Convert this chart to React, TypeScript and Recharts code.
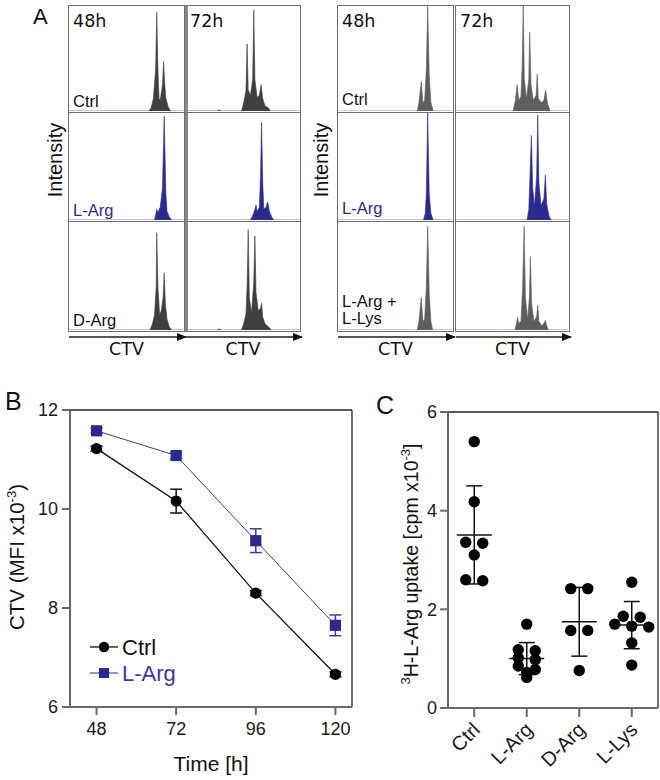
import React from 'react';
import {
  AreaChart, Area, XAxis, YAxis, LineChart, Line, ErrorBar, ReferenceLine,
  ScatterChart, Scatter,
} from 'recharts';

const FONT = '"Liberation Sans", Arial, sans-serif';
const FONT2 = '"DejaVu Sans", Verdana, sans-serif';

// ---------- Panel A: CTV histograms, [CTV bin (0-100), relative count (0-100)] ----------
const ctrl48L = [[0,0],[70,0],[72,3],[74,12],[76,40],[77,94],[78,40],[79,12],[80,10],[82,25],[83,47],[84,25],[85,12],[87,4],[89,0],[100,0]];
const ctrl72L = [[0,0],[26,0],[28,1],[30,0],[48,0],[50,8],[52,20],[53,64],[54,20],[56,15],[58,30],[59,96],[60,30],[62,13],[64,15],[65.5,25],[67,12],[69,5],[72,3],[74,0],[100,0]];
const lArg48L = [[0,0],[75,0],[76,5],[77,10],[78,7],[80,12],[82,30],[83.5,97],[85,25],[86,8],[88,3],[90,0],[100,0]];
const lArg72L = [[0,0],[56,0],[58,4],[60,10],[61,14],[62,8],[64,12],[65,40],[66,91],[67,35],[68,10],[70,12],[71.5,17],[73,8],[75,3],[77,0],[100,0]];
const dArg48L = [[0,0],[71,0],[73,5],[75,14],[76.5,40],[77,90],[78,40],[79.5,14],[81,18],[82.5,30],[83.5,53],[84.5,25],[86,10],[88,3],[90,0],[100,0]];
const dArg72L = [[0,0],[26,0],[28,1],[30,0],[48,0],[50,6],[52,15],[53,40],[54,93],[55,30],[57,16],[59,45],[60,87],[61,35],[63,18],[65,20],[66,25],[67,12],[69,6],[72,3],[75,0],[100,0]];
const ctrl48R = [[0,0],[69.5,0],[71,8],[73,28],[74.5,8],[76,10],[77.5,40],[78.7,100],[80,35],[81.5,8],[83.5,0],[100,0]];
const ctrl72R = [[0,0],[51,0],[53,10],[54.6,25],[56,10],[58,14],[59,40],[60,100],[61,30],[63,12],[65,30],[65.8,75],[67,25],[69,10],[71.5,15],[72.5,35],[73.5,12],[76,8],[78.5,10],[80,20],[81.5,8],[84,0],[100,0]];
const lArg48R = [[0,0],[75,0],[76.5,6],[77.5,25],[78.7,100],[80,25],[81.5,6],[83.5,0],[100,0]];
const lArg72R = [[0,0],[63.4,0],[65,10],[66,40],[67.3,79],[68.5,30],[70,13],[72,40],[73,98],[74,35],[76,13],[78.5,20],[79.8,42],[81,15],[83,4],[84.8,0],[100,0]];
const lys48R = [[0,0],[69.5,0],[71,8],[73,30],[74.5,8],[76,10],[77.5,40],[78.7,96],[80,35],[81.5,8],[83,0],[100,0]];
const lys72R = [[0,0],[52.6,0],[54,6],[55,12],[56,6],[58,8],[59.5,40],[60.8,96],[62,30],[64,10],[65.5,30],[66.4,68],[67.5,25],[69.5,8],[72,12],[73,23],[74,8],[76.5,4],[78.5,6],[79.8,9],[81,4],[82.5,0],[100,0]];

const timeLabels = ['48h', '72h'];
const leftRowLabels = ['Ctrl', 'L-Arg', 'D-Arg'];
const rightRowLabels = ['Ctrl', 'L-Arg', 'L-Arg +|L-Lys'];

// ---------- Panel B ----------
const times = [48, 72, 96, 120];
const ctrlMfi = [11.22, 10.16, 8.30, 6.66];
const ctrlMfiErr = [0.05, 0.24, 0.05, 0.05];
const lArgMfi = [11.58, 11.08, 9.36, 7.65];
const lArgMfiErr = [0.05, 0.07, 0.24, 0.21];
const bYTicks = [6, 8, 10, 12];
const bSeriesNames = ['Ctrl', 'L-Arg'];

// ---------- Panel C ----------
const uptakeCats = ['Ctrl', 'L-Arg', 'D-Arg', 'L-Lys'];
const ctrlUptake = [5.40, 4.18, 3.36, 3.34, 3.10, 2.60, 2.58];
const lArgUptake = [1.70, 1.18, 1.16, 1.02, 0.98, 0.85, 0.78, 0.72, 0.62];
const dArgUptake = [2.42, 2.42, 1.57, 1.57, 0.76];
const lLysUptake = [2.55, 1.86, 1.84, 1.70, 1.66, 1.64, 1.32, 0.87];
const cYTicks = [0, 2, 4, 6];

const DARK = '#3f3f3f';
const GREY = '#5e5e5e';
const BLUE = '#2b2b8e';

function Hist({ data, color, w, h }: any) {
  const pts = data.map(([x, y]: number[]) => ({ x, y }));
  return (
    <AreaChart width={w} height={h} data={pts} margin={{ top: 0, right: 0, bottom: 0, left: 0 }}>
      <XAxis type="number" dataKey="x" domain={[0, 100]} hide />
      <YAxis type="number" domain={[0, 100]} hide allowDataOverflow />
      <Area type="linear" dataKey="y" fill={color} fillOpacity={1} stroke={color} strokeWidth={0.6}
        isAnimationActive={false} dot={false} activeDot={false} />
    </AreaChart>
  );
}

const leftCols = [{ x: 68, w: 117 }, { x: 185, w: 116 }];
const rightCols = [{ x: 337, w: 117 }, { x: 455, w: 115 }];
const rows = [{ y: 5, h: 108 }, { y: 112, h: 110 }, { y: 221, h: 111 }];

const leftHists = [[ctrl48L, ctrl72L], [lArg48L, lArg72L], [dArg48L, dArg72L]];
const rightHists = [[ctrl48R, ctrl72R], [lArg48R, lArg72R], [lys48R, lys72R]];

function swarm(vals: number[]) {
  const idx = vals.map((_, i) => i).sort((a, b) => vals[b] - vals[a]);
  const out = new Array(vals.length).fill(0);
  let row: number[] = [];
  const flush = () => {
    row.forEach((k, j) => { out[k] = (j - (row.length - 1) / 2) * 17; });
    row = [];
  };
  for (const k of idx) {
    if (row.length && vals[row[0]] - vals[k] > 0.09) flush();
    row.push(k);
  }
  flush();
  return out;
}

function stats(vals: number[]) {
  const m = vals.reduce((a, b) => a + b, 0) / vals.length;
  const v = vals.reduce((a, b) => a + (b - m) * (b - m), 0) / (vals.length - 1);
  return { m, sd: Math.sqrt(v) };
}

const CircleDot = (p: any) => <circle cx={p.cx} cy={p.cy} r={5.6} fill="#000" />;
const SquareDot = (p: any) => <rect x={p.cx - 5.6} y={p.cy - 5.6} width={11.2} height={11.2} fill={BLUE} />;

// rotated category tick label, anchored at the library's tick position
const renderCTick = (p: any) => {
  const ax = p.x + 7;
  const ay = p.y + 14;
  return (
    <g transform={`translate(${ax},${ay}) rotate(-45)`}>
      <text x={0} y={0} textAnchor="end" fontFamily={FONT} fontSize={20} fill="#1a1a1a">
        {uptakeCats[p.payload.value]}
      </text>
    </g>
  );
};

export default function App() {
  const bData = times.map((t, i) => ({
    t, ctrl: ctrlMfi[i], ctrlErr: ctrlMfiErr[i], larg: lArgMfi[i], largErr: lArgMfiErr[i],
  }));

  const groups = [ctrlUptake, lArgUptake, dArgUptake, lLysUptake];
  const dots: any[] = [];
  groups.forEach((vals, gi) => {
    const off = swarm(vals);
    vals.forEach((v, k) => dots.push({ x: gi, y: v, dx: off[k] }));
  });
  const means = groups.map((vals, gi) => { const s = stats(vals); return { x: gi, y: s.m, sd: s.sd }; });

  const axisStyle = { stroke: '#6a6a6a', strokeWidth: 2 };
  const tickStyle = { fill: '#1a1a1a', fontSize: 18, fontFamily: FONT };

  return (
    <div style={{ position: 'absolute', left: 0, top: 0, width: 660, height: 780, background: '#fff', fontFamily: FONT }}>
      {/* Panel A boxes */}
      {[{ cols: leftCols, hists: leftHists, light: false }, { cols: rightCols, hists: rightHists, light: true }].map((g, gi) =>
        rows.map((r, ri) => g.cols.map((c, ci) => {
          const color = ri === 1 ? BLUE : (g.light ? GREY : DARK);
          const thickLeft = gi === 0 && ci === 1;
          return (
            <div key={`${gi}-${ri}-${ci}`} style={{
              position: 'absolute', left: c.x, top: r.y, width: c.w, height: r.h, boxSizing: 'border-box',
              border: '1.5px solid #6e6e6e', borderLeft: thickLeft ? '3px solid #8a8a8a' : '1.5px solid #6e6e6e',
            }}>
              <Hist data={g.hists[ri][ci]} color={color} w={c.w - (thickLeft ? 4.5 : 3)} h={r.h - 3} />
            </div>
          );
        })))}

      {/* Panel B */}
      <div style={{ position: 'absolute', left: 0, top: 380 }}>
        <LineChart width={360} height={400} data={bData} margin={{ top: 30, right: 8, bottom: 0, left: 0 }}>
          <XAxis dataKey="t" type="number" domain={[40, 125]} ticks={times} interval={0} height={73}
            tickSize={8} tickMargin={7} axisLine={axisStyle} tickLine={axisStyle} tick={tickStyle} allowDataOverflow />
          <YAxis type="number" domain={[6, 12]} ticks={bYTicks} interval={0} width={70}
            tickSize={8} tickMargin={4} axisLine={axisStyle} tickLine={axisStyle} tick={tickStyle} />
          <ReferenceLine y={12} stroke="#222" strokeWidth={1.3} />
          <ReferenceLine x={125} stroke="#222" strokeWidth={1.3} />
          <Line dataKey="ctrl" name={bSeriesNames[0]} stroke="#111" strokeWidth={1.3} dot={<CircleDot />} activeDot={false} isAnimationActive={false}>
            <ErrorBar dataKey="ctrlErr" width={6} stroke="#111" strokeWidth={1.5} direction="y" />
          </Line>
          <Line dataKey="larg" name={bSeriesNames[1]} stroke="#3c3c9c" strokeWidth={1} dot={<SquareDot />} activeDot={false} isAnimationActive={false}>
            <ErrorBar dataKey="largErr" width={6} stroke="#3c3c9c" strokeWidth={1.5} direction="y" />
          </Line>
        </LineChart>
      </div>

      {/* Panel C */}
      <div style={{ position: 'absolute', left: 320, top: 380 }}>
        <ScatterChart width={340} height={400} margin={{ top: 32, right: 2, bottom: 0, left: 0 }}>
          <XAxis dataKey="x" type="number" domain={[-0.5, 3.5]} ticks={[0, 1, 2, 3]} interval={0} height={72}
            tickSize={9} tickMargin={0} axisLine={axisStyle} tickLine={axisStyle}
            tick={renderCTick} allowDataOverflow />
          <YAxis dataKey="y" type="number" domain={[0, 6]} ticks={cYTicks} interval={0} width={128}
            tickSize={8} tickMargin={3} axisLine={axisStyle} tickLine={axisStyle} tick={tickStyle} />
          <ReferenceLine y={6} stroke="#222" strokeWidth={1.3} />
          <ReferenceLine x={3.5} stroke="#222" strokeWidth={1.3} />
          <Scatter data={dots} isAnimationActive={false}
            shape={(p: any) => <circle cx={p.cx + p.payload.dx} cy={p.cy} r={5.7} fill="#000" />} />
          <Scatter data={means} isAnimationActive={false}
            shape={(p: any) => <line x1={p.cx - 17.5} x2={p.cx + 17.5} y1={p.cy} y2={p.cy} stroke="#111" strokeWidth={1.5} />}>
            <ErrorBar dataKey="sd" width={8} stroke="#111" strokeWidth={1.5} direction="y" />
          </Scatter>
        </ScatterChart>
      </div>

      {/* Overlay text & decorations */}
      <svg width={660} height={780} style={{ position: 'absolute', left: 0, top: 0, pointerEvents: 'none' }}>
        <defs>
          <marker id="arr" markerWidth="10" markerHeight="8" refX="9" refY="4" orient="auto" markerUnits="userSpaceOnUse">
            <path d="M0,0 L10,4 L0,8 Z" fill="#111" />
          </marker>
        </defs>
        <text x={33} y={24} fontFamily={FONT} fontSize={22} fill="#111">A</text>
        <text x={5} y={410} fontFamily={FONT} fontSize={25} fill="#111">B</text>
        <text x={376} y={414} fontFamily={FONT} fontSize={25} fill="#111">C</text>

        {[...leftCols, ...rightCols].map((c, i) => (
          <g key={i}>
            <line x1={c.x + 1} x2={c.x + c.w + 1} y1={337} y2={337} stroke="#555" strokeWidth={2} markerEnd="url(#arr)" />
            <text x={c.x + c.w / 2} y={355} textAnchor="middle" fontFamily={FONT2} fontSize={17.5} fill="#111">CTV</text>
            <text x={c.x + 5} y={27} fontFamily={FONT2} fontSize={17.5} fill="#111">{timeLabels[i % 2]}</text>
          </g>
        ))}
        {leftRowLabels.map((l, ri) => (
          <text key={'l' + ri} x={73} y={rows[ri].y + rows[ri].h - 6} fontFamily={FONT} fontSize={16.5}
            fill={ri === 1 ? BLUE : '#111'}>{l}</text>
        ))}
        {rightRowLabels.map((l, ri) => {
          const parts = l.split('|');
          return parts.map((pt, k) => (
            <text key={'r' + ri + k} x={342} y={rows[ri].y + rows[ri].h - 8 - (parts.length - 1 - k) * 17}
              fontFamily={FONT} fontSize={16.5} fill={ri === 1 ? BLUE : '#111'}>{pt}</text>
          ));
        })}
        <text transform="translate(62,160) rotate(-90)" textAnchor="middle" fontFamily={FONT} fontSize={20} fill="#111">Intensity</text>
        <text transform="translate(328,160) rotate(-90)" textAnchor="middle" fontFamily={FONT} fontSize={20} fill="#111">Intensity</text>

        {/* Panel B legend */}
        <g>
          <line x1={90} x2={118} y1={647} y2={647} stroke="#111" strokeWidth={1.3} />
          <circle cx={104} cy={647} r={5.2} fill="#000" />
          <text x={122} y={655} fontFamily={FONT} fontSize={22} fill="#111">{bSeriesNames[0]}</text>
          <line x1={90} x2={118} y1={673} y2={673} stroke={BLUE} strokeWidth={1} />
          <rect x={99} y={668} width={10} height={10} fill={BLUE} />
          <text x={122} y={681} fontFamily={FONT} fontSize={22} fill="#3a3a96">{bSeriesNames[1]}</text>
        </g>

        <text transform="translate(24,557) rotate(-90)" textAnchor="middle" fontFamily={FONT} fontSize={20.5} fill="#111">
          CTV (MFI x10<tspan dy={-8} fontSize={13}>-3</tspan><tspan dy={8}>)</tspan>
        </text>
        <text x={211} y={771} textAnchor="middle" fontFamily={FONT} fontSize={21} fill="#111">Time [h]</text>
        <text transform="translate(418,564) rotate(-90)" textAnchor="middle" fontFamily={FONT} fontSize={19.5} fill="#111">
          <tspan dy={-8} fontSize={13}>3</tspan><tspan dy={8}>H-L-Arg uptake [cpm x10</tspan><tspan dy={-8} fontSize={13}>-3</tspan><tspan dy={8}>]</tspan>
        </text>
      </svg>
    </div>
  );
}
